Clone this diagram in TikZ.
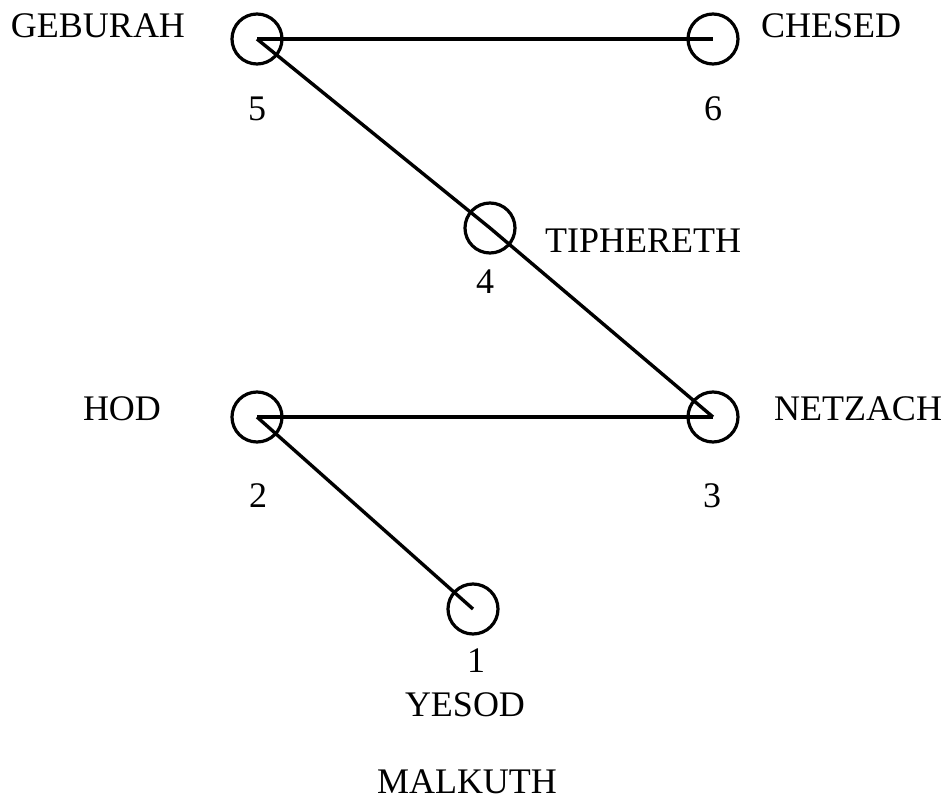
\documentclass[tikz,border=0pt]{standalone}
\usepackage{fontspec}
\setmainfont{Liberation Serif}

\begin{document}
\begin{tikzpicture}[x=1pt,y=-1pt,
        sephira/.style={draw,circle,line width=3.2pt,minimum size=50pt,inner sep=0pt},
        link/.style={line width=3.4pt},
        lbl/.style={anchor=base,inner sep=0pt,font=\fontsize{36}{40}\selectfont}]
    \useasboundingbox (0,0) rectangle (948,800);
    \node[sephira] (s1) at (473,609) {};
    \node[sephira] (s2) at (257,417) {};
    \node[sephira] (s3) at (713,417) {};
    \node[sephira] (s4) at (490,228) {};
    \node[sephira] (s5) at (257,39) {};
    \node[sephira] (s6) at (713,39) {};
    \draw[link] (s5.center) -- (s6.center);
    \draw[link] (s5.center) -- (s4.center) -- (s3.center);
    \draw[link] (s2.center) -- (s3.center);
    \draw[link] (s2.center) -- (s1.center);
    \node[lbl] (n1) at (476,672) {1};
    \node[lbl] (n2) at (258,507) {2};
    \node[lbl] (n3) at (712,507) {3};
    \node[lbl] (n4) at (485,293) {4};
    \node[lbl] (n5) at (257,120) {5};
    \node[lbl] (n6) at (713,120) {6};
    \node[lbl] (geburah) at (98,38) {GEBURAH};
    \node[lbl] (chesed) at (831,38) {CHESED};
    \node[lbl] (tiphereth) at (643,252) {TIPHERETH};
    \node[lbl] (hod) at (122,420) {HOD};
    \node[lbl] (netzach) at (858,420) {NETZACH};
    \node[lbl] (yesod) at (465,716) {YESOD};
    \node[lbl] (malkuth) at (467,793) {MALKUTH};
\end{tikzpicture}
\end{document}
